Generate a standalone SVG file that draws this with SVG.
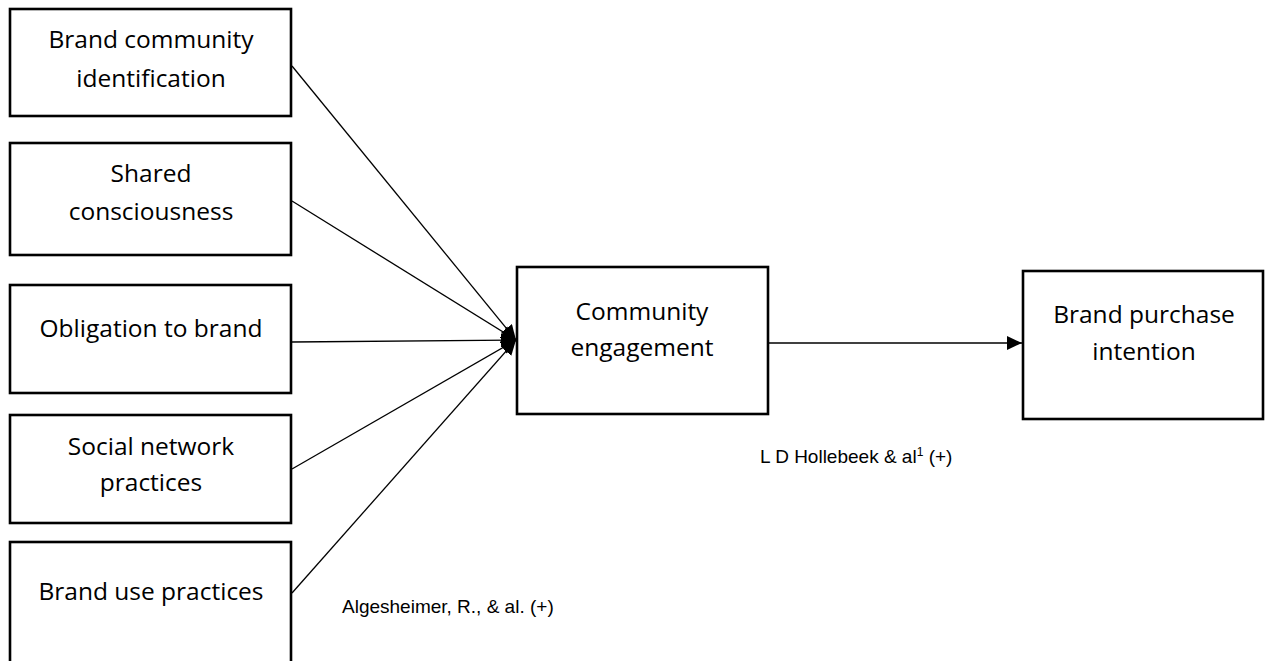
<svg xmlns="http://www.w3.org/2000/svg" width="1265" height="661" viewBox="0 0 1265 661">
<style>
.box{fill:#fff;stroke:#000;stroke-width:2.6}
.t{font-family:"Open Sans","Noto Sans",sans-serif;font-size:24.5px;fill:#000;text-anchor:middle}
.lbl{font-family:"Liberation Sans",Arial,sans-serif;font-size:19px;fill:#000}
.c{stroke:#000;stroke-width:1.3;fill:none;marker-end:url(#ah)}
</style>
<defs>
<marker id="ah" markerUnits="userSpaceOnUse" markerWidth="16" markerHeight="14" refX="15" refY="7" orient="auto" viewBox="0 0 16 14">
<path d="M0,0 L15,7 L0,14 Z" fill="#000"/>
</marker>
</defs>
<g id="n1"><rect class="box" x="10" y="9" width="281" height="107"/>
<text class="t" x="151" y="48">Brand community</text><text class="t" x="151" y="87">identification</text></g>
<g id="n2"><rect class="box" x="10" y="143" width="281" height="112"/>
<text class="t" x="151" y="182">Shared</text><text class="t" x="151" y="220">consciousness</text></g>
<g id="n3"><rect class="box" x="10" y="285" width="281" height="108"/>
<text class="t" x="151" y="337">Obligation to brand</text></g>
<g id="n4"><rect class="box" x="10" y="415" width="281" height="108"/>
<text class="t" x="151" y="455">Social network</text><text class="t" x="151" y="491">practices</text></g>
<g id="n5"><rect class="box" x="10" y="542" width="281" height="140"/>
<text class="t" x="151" y="600">Brand use practices</text></g>
<g id="n6"><rect class="box" x="517" y="267" width="251" height="147"/>
<text class="t" x="642" y="320">Community</text><text class="t" x="642" y="356">engagement</text></g>
<g id="n7"><rect class="box" x="1023" y="271" width="240" height="148"/>
<text class="t" x="1144" y="323">Brand purchase</text><text class="t" x="1144" y="360">intention</text></g>
<g id="connectors">
<line class="c" x1="292" y1="66" x2="516" y2="340"/>
<line class="c" x1="292" y1="201" x2="516" y2="340"/>
<line class="c" x1="292" y1="342" x2="516" y2="340"/>
<line class="c" x1="292" y1="469" x2="516" y2="340"/>
<line class="c" x1="292" y1="593" x2="516" y2="340"/>
<line class="c" x1="769" y1="343" x2="1022" y2="343"/>
</g>
<g id="labels">
<text class="lbl" x="342" y="613">Algesheimer, R., &amp; al. (+)</text>
<text class="lbl" x="760" y="463">L D Hollebeek &amp; al<tspan font-size="12" dy="-7">1</tspan><tspan dy="7"> (+)</tspan></text>
</g>
</svg>
